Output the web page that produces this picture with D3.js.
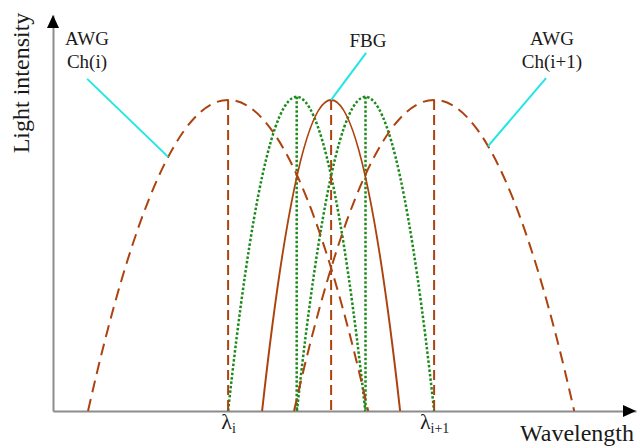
<!DOCTYPE html>
<html>
<head>
<meta charset="utf-8">
<script src="https://cdn.jsdelivr.net/npm/d3@7"></script>
<style>
  html, body { margin: 0; padding: 0; background: #fff; }
  svg { display: block; }
  text { font-family: "Liberation Serif", "Times New Roman", serif; fill: #1a1a1a; }
</style>
</head>
<body>
<svg id="chart" width="638" height="446"></svg>
<script>
// ---- data (wavelength in channel units, intensity normalised) ----
const awgCenters = [1, 2];            // AWG Ch(i), Ch(i+1)
const awgHalfWidth = 0.68;
const awgPeak = 1.0;
const fbgCenter = 1.5;
const fbgHalfWidth = 0.335;
const fbgPeak = 1.0;
const gratingCenters = [1.333, 1.667]; // green dotted profiles
const gratingHalfWidth = 0.333;
const gratingPeak = 1.01;
const tickValues = [1, 2];
const tickMain = ["λ", "λ"];
const tickSub = ["i", "i+1"];
const labelNames = [["AWG", "Ch(i)"], ["FBG"], ["AWG", "Ch(i+1)"]];
const labelAnchorX = [0.709, 1.5, 2.262]; // point on curve that the pointer touches
const xDomain = [0.15, 2.98];
const yDomain = [0, 1.273];

// ---- layout ----
const svg = d3.select("#chart");
const x = d3.scaleLinear().domain(xDomain).range([53, 636]);
const y = d3.scaleLinear().domain(yDomain).range([411, 15]);
const brown = "#AC430E", green = "#1B8A1B", cyan = "#22E6E6", axisGray = "#8c8c8c";

// parabola as quadratic Bezier through the scales
function profile(c, hw, peak) {
  const p = d3.path();
  p.moveTo(x(c - hw), y(0));
  p.quadraticCurveTo(x(c), y(2 * peak), x(c + hw), y(0));
  return p.toString();
}
function valueAt(c, hw, peak, v) {
  const t = (v - c) / hw;
  return peak * (1 - t * t);
}

// axes
const xAxis = d3.axisBottom(x).tickValues(tickValues).tickSizeInner(0).tickSizeOuter(0).tickFormat(() => "");
const gx = svg.append("g").attr("transform", `translate(0,${y(0)})`).call(xAxis);
gx.select(".domain").attr("stroke", axisGray).attr("stroke-width", 2);
gx.selectAll(".tick text").remove();
gx.selectAll(".tick").append("text")
  .attr("y", 18).attr("text-anchor", "middle")
  .style("font-size", "22px")
  .each(function (d, i) {
    const t = d3.select(this);
    t.append("tspan").text(tickMain[i]);
    t.append("tspan").attr("dy", 4).style("font-size", "14px").text(tickSub[i]);
  });

const yAxis = d3.axisLeft(y).tickValues([]).tickSizeOuter(0);
const gy = svg.append("g").attr("transform", `translate(${x(xDomain[0])},0)`).call(yAxis);
gy.select(".domain").attr("stroke", axisGray).attr("stroke-width", 2);

// arrowheads
const x0 = x(xDomain[0]), xe = x(xDomain[1]), y0 = y(0), ye = y(yDomain[1]);
svg.append("path").attr("d", `M${xe},${y0} L${xe - 13},${y0 - 6} L${xe - 13},${y0 + 6} Z`).attr("fill", "#000");
svg.append("path").attr("d", `M${x0},${ye} L${x0 - 6},${ye + 13} L${x0 + 6},${ye + 13} Z`).attr("fill", "#000");

// axis titles
svg.append("text").attr("x", 520).attr("y", 441).style("font-size", "24px").text("Wavelength");
svg.append("text").attr("transform", "translate(29,83) rotate(-90)").attr("text-anchor", "middle")
  .style("font-size", "24px").text("Light intensity");

// green dotted profiles
gratingCenters.forEach(c => {
  svg.append("path").attr("d", profile(c, gratingHalfWidth, gratingPeak))
    .attr("fill", "none").attr("stroke", green).attr("stroke-width", 2.5).attr("stroke-dasharray", "2.5,2");
  svg.append("line").attr("x1", x(c)).attr("x2", x(c)).attr("y1", y(gratingPeak)).attr("y2", y(0))
    .attr("stroke", green).attr("stroke-width", 2.5).attr("stroke-dasharray", "2.5,2");
});

// AWG dashed profiles
awgCenters.forEach(c => {
  svg.append("path").attr("d", profile(c, awgHalfWidth, awgPeak))
    .attr("fill", "none").attr("stroke", brown).attr("stroke-width", 2).attr("stroke-dasharray", "12,7");
  svg.append("line").attr("x1", x(c)).attr("x2", x(c)).attr("y1", y(awgPeak)).attr("y2", y(0))
    .attr("stroke", brown).attr("stroke-width", 2).attr("stroke-dasharray", "10,5");
});

// FBG solid profile
svg.append("path").attr("d", profile(fbgCenter, fbgHalfWidth, fbgPeak))
  .attr("fill", "none").attr("stroke", brown).attr("stroke-width", 2);
svg.append("line").attr("x1", x(fbgCenter)).attr("x2", x(fbgCenter)).attr("y1", y(fbgPeak)).attr("y2", y(0))
  .attr("stroke", brown).attr("stroke-width", 2).attr("stroke-dasharray", "10,5");

// callouts
const anchorVals = [
  valueAt(awgCenters[0], awgHalfWidth, awgPeak, labelAnchorX[0]),
  fbgPeak,
  valueAt(awgCenters[1], awgHalfWidth, awgPeak, labelAnchorX[2])
];
const pointerOffset = [[-81, -78], [35, -47], [58, -68]];
const labelPos = [[87, 45], [368, 47], [552, 45]];
labelAnchorX.forEach((v, i) => {
  const ax = x(v), ay = y(anchorVals[i]);
  svg.append("line").attr("x1", ax).attr("y1", ay)
    .attr("x2", ax + pointerOffset[i][0]).attr("y2", ay + pointerOffset[i][1])
    .attr("stroke", cyan).attr("stroke-width", 2);
  labelNames[i].forEach((s, j) => {
    svg.append("text").attr("x", labelPos[i][0]).attr("y", labelPos[i][1] + j * 23)
      .attr("text-anchor", "middle").style("font-size", "19px").text(s);
  });
});
</script>
</body>
</html>
